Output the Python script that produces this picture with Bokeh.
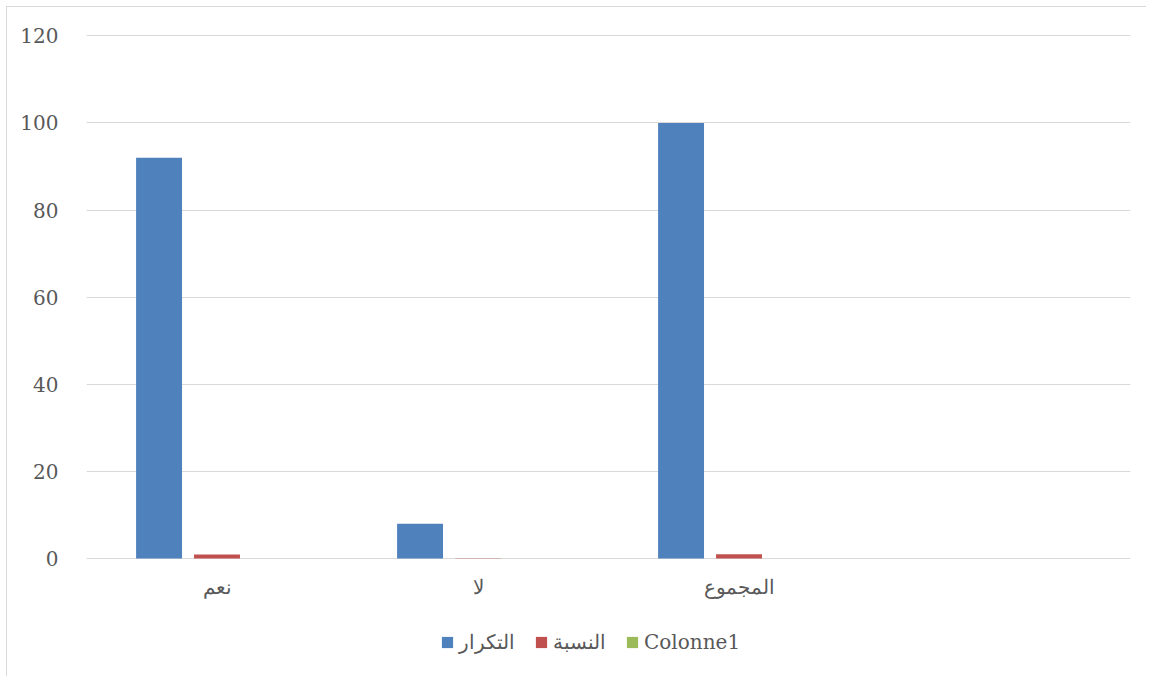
import math
from bokeh.plotting import figure
from bokeh.models import FactorRange, Range1d, FixedTicker, Legend, LegendItem, ColumnDataSource
from bokeh.transform import dodge
from bokeh.embed import file_html
from bokeh.resources import INLINE

categories = ["نعم", "لا", "المجموع", " "]
takrar = [92, 8, 100, math.nan]
nisba = [0.92, 0.08, 1.0, math.nan]
colonne1 = [math.nan, math.nan, math.nan, math.nan]
series_names = ["التكرار", "النسبة", "Colonne1"]
colors = ["#4f81bd", "#c0504d", "#9bbb59"]
y_ticks = [0, 20, 40, 60, 80, 100, 120]

FONT = "DejaVu Serif"
TXT = "#595959"

src = ColumnDataSource(dict(cat=categories, takrar=takrar, nisba=nisba, colonne1=colonne1))

p = figure(x_range=FactorRange(factors=categories), y_range=Range1d(-27.09, 120.3),
           frame_width=1044, frame_height=642, output_backend="svg", toolbar_location=None,
           min_border_left=79, min_border_right=16, min_border_top=27, min_border_bottom=0)
p.styles = {"border-left": "1px solid #d9d9d9", "border-top": "1px solid #d9d9d9",
            "margin-left": "6px", "margin-top": "6px"}
p.outline_line_color = None
p.background_fill_color = "white"
p.border_fill_color = "white"

offsets = [-0.222, 0.0, 0.222]
fields = ["takrar", "nisba", "colonne1"]
renderers = []
for f, off, c in zip(fields, offsets, colors):
    r = p.vbar(x=dodge("cat", off, range=p.x_range), top=f, width=0.176, bottom=0,
               source=src, fill_color=c, line_color=None)
    renderers.append(r)

p.xgrid.grid_line_color = None
p.ygrid.grid_line_color = "#d9d9d9"
p.ygrid.grid_line_width = 1
p.yaxis.ticker = FixedTicker(ticks=y_ticks)
p.xaxis.fixed_location = 0

for ax in (p.xaxis, p.yaxis):
    ax.axis_line_color = None
    ax.major_tick_line_color = None
    ax.minor_tick_line_color = None
    ax.major_label_text_font = FONT
    ax.major_label_text_color = TXT
    ax.major_label_text_font_size = "20px"
p.yaxis.major_label_standoff = 22
p.xaxis.major_label_standoff = 10

legend = Legend(items=[LegendItem(label=n, renderers=[r]) for n, r in zip(series_names, renderers)],
                orientation="horizontal", location=(354, 22),
                label_text_font=FONT, label_text_color=TXT, label_text_font_size="20px",
                glyph_width=14, glyph_height=14, spacing=19, label_standoff=5,
                border_line_color=None, background_fill_alpha=0, margin=0, padding=4)
p.add_layout(legend, "center")

open("out.html", "w").write(file_html(p, INLINE))
